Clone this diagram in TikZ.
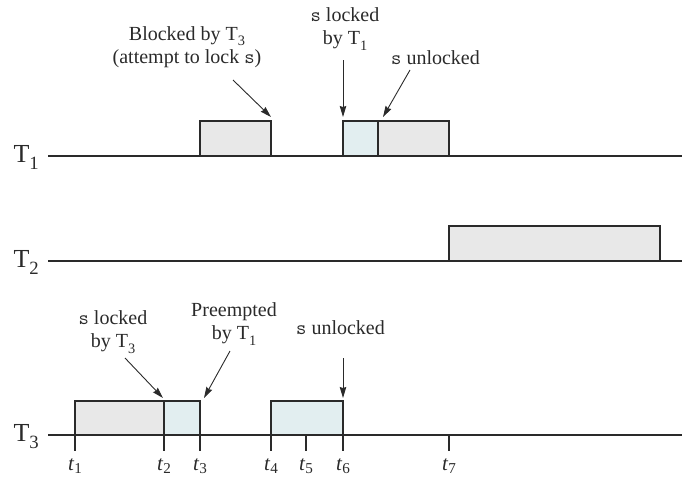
\documentclass[tikz,border=0pt]{standalone}
\usepackage{fontspec}
\setmainfont{Liberation Serif}
\usetikzlibrary{arrows.meta}
\definecolor{boxgrey}{HTML}{E8E8E8}
\definecolor{boxblue}{HTML}{E2EEF0}
\definecolor{ink}{HTML}{2A2A2A}
\newcommand\msub[1]{\raisebox{-0.28em}{\scalebox{0.72}{#1}}}
\newcommand\tsub[1]{\raisebox{-0.18em}{\scalebox{0.72}{#1}}}
\begin{document}
\begin{tikzpicture}[x=1pt,y=-1pt,
  tline/.style={draw=ink,line width=1.3pt},
  gbox/.style={draw=ink,line width=1.2pt,fill=boxgrey},
  bbox/.style={draw=ink,line width=1.2pt,fill=boxblue},
  arr/.style={draw=ink,line width=0.9pt,-{Stealth[length=11pt,width=6.5pt,inset=1pt]}},
  lab/.style={font=\fontsize{20}{23}\selectfont,align=center,inner sep=0pt,text=ink},
  tlab/.style={font=\fontsize{26}{28}\selectfont,inner sep=0pt,anchor=base east,text=ink},
  tick/.style={draw=ink,line width=1.1pt},
  tklab/.style={font=\fontsize{21}{24}\selectfont,inner sep=0pt,anchor=base,text=ink}]
\useasboundingbox (0,0) rectangle (682,479);
% timelines
\node[tlab] (T1) at (39,162) {T\msub{1}};
\node[tlab] (T2) at (39,267) {T\msub{2}};
\node[tlab] (T3) at (39,441) {T\msub{3}};
\coordinate (l1a) at (48,156); \coordinate (l1b) at (682,156);
\coordinate (l2a) at (48,261); \coordinate (l2b) at (682,261);
\coordinate (l3a) at (48,435); \coordinate (l3b) at (682,435);
\draw[tline] (l1a) -- (l1b);
\draw[tline] (l2a) -- (l2b);
\draw[tline] (l3a) -- (l3b);
% boxes T1
\path[gbox] (200,121) rectangle (271,156);
\path[bbox] (343,121) rectangle (378,156);
\path[gbox] (378,121) rectangle (449,156);
% box T2
\path[gbox] (449,226) rectangle (660,261);
% boxes T3
\path[gbox] (75,401) rectangle (164,435);
\path[bbox] (164,401) rectangle (200,435);
\path[bbox] (271,401) rectangle (343,435);
% ticks and time labels
\foreach \n/\x in {1/75,2/164,3/200,4/271,5/306,6/343,7/449}{
  \coordinate (k\n a) at (\x,435);
  \coordinate (k\n b) at (\x,451);
  \draw[tick] (k\n a) -- (k\n b);
  \node[tklab] (tl\n) at (\x,470) {\textit{t}\tsub{\n}};
}
% labels top
\node[lab] (blk) at (187,47) {Blocked by T\msub{3}\\(attempt to lock \texttt{s})};
\node[lab] (lk1) at (345,29) {\texttt{s} locked\\by T\msub{1}};
\node[lab,anchor=west] (ul1) at (391,58) {\texttt{s} unlocked};
% labels bottom
\node[lab] (lk3) at (113,332) {\texttt{s} locked\\by T\msub{3}};
\node[lab] (pre) at (234,324) {Preempted\\by T\msub{1}};
\node[lab,anchor=west] (ul3) at (296,328) {\texttt{s} unlocked};
% arrows
\coordinate (a1s) at (233,80);  \coordinate (a1e) at (271,117);
\coordinate (a2s) at (343,60);  \coordinate (a2e) at (343,117);
\coordinate (a3s) at (410,70);  \coordinate (a3e) at (383,117);
\coordinate (a4s) at (125,358); \coordinate (a4e) at (163,398);
\coordinate (a5s) at (230,351); \coordinate (a5e) at (204,398);
\coordinate (a6s) at (343,358); \coordinate (a6e) at (343,398);
\draw[arr] (a1s) -- (a1e);
\draw[arr] (a2s) -- (a2e);
\draw[arr] (a3s) -- (a3e);
\draw[arr] (a4s) -- (a4e);
\draw[arr] (a5s) -- (a5e);
\draw[arr] (a6s) -- (a6e);
\end{tikzpicture}
\end{document}
